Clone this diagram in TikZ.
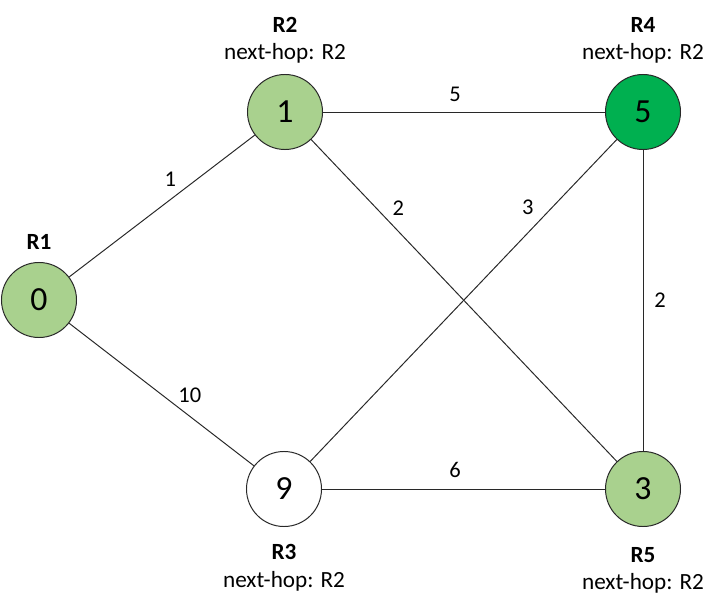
\documentclass[tikz,border=0pt]{standalone}
\usepackage{fontspec}
\setmainfont{Carlito}
\usetikzlibrary{positioning}
\definecolor{rtlight}{RGB}{169,209,142}
\definecolor{rtdark}{RGB}{0,176,80}
\definecolor{rtline}{RGB}{40,40,40}
\tikzset{
  router/.style={circle, draw=rtline, fill=white, minimum size=1.875cm,
    inner sep=0pt, line width=0.7pt, font=\fontsize{24}{28}\selectfont},
  visited/.style={router, fill=rtlight},
  current/.style={router, fill=rtdark},
  rname/.style={align=center, font=\fontsize{16.5}{19.5}\selectfont},
  link/.style={draw=rtline, line width=0.7pt},
  cost/.style={font=\fontsize{16}{19}\selectfont, inner sep=0pt}
}

\begin{document}
\begin{tikzpicture}[x=0.025cm, y=-0.025cm]
  \useasboundingbox (0,0) rectangle (718,610);
  \node[visited] (r1) at (39,300) {0};
  \node[visited] (r2) at (285,112) {1};
  \node[current] (r4) at (643,112) {5};
  \node[router]  (r3) at (284,489) {9};
  \node[visited] (r5) at (643,489) {3};

  \node[rname, above=5pt of r1] (r1name) {\textbf{R1}};
  \node[rname, above=4pt of r2] (r2name) {\textbf{R2}\\next-hop: R2};
  \node[rname, above=4pt of r4] (r4name) {\textbf{R4}\\next-hop: R2};
  \node[rname, below=9pt of r3] (r3name) {\textbf{R3}\\next-hop: R2};
  \node[rname, below=11pt of r5] (r5name) {\textbf{R5}\\next-hop: R2};

  % links with costs
  \draw[link] (r1) -- node[cost, pos=.54, shift={(1,-21)}]{1} (r2);
  \draw[link] (r2) -- node[cost, pos=.468, shift={(0,-18)}]{5} (r4);
  \draw[link] (r2) -- node[cost, pos=.285, shift={(0,-23)}]{2} (r5);
  \draw[link] (r3) -- node[cost, pos=.71, shift={(0,-26)}]{3} (r4);
  \draw[link] (r4) -- node[cost, pos=.5, shift={(17,0)}]{2} (r5);
  \draw[link] (r1) -- node[cost, pos=.653, shift={(0,-21)}]{10} (r3);
  \draw[link] (r3) -- node[cost, pos=.47, shift={(0,-19)}]{6} (r5);
\end{tikzpicture}
\end{document}
